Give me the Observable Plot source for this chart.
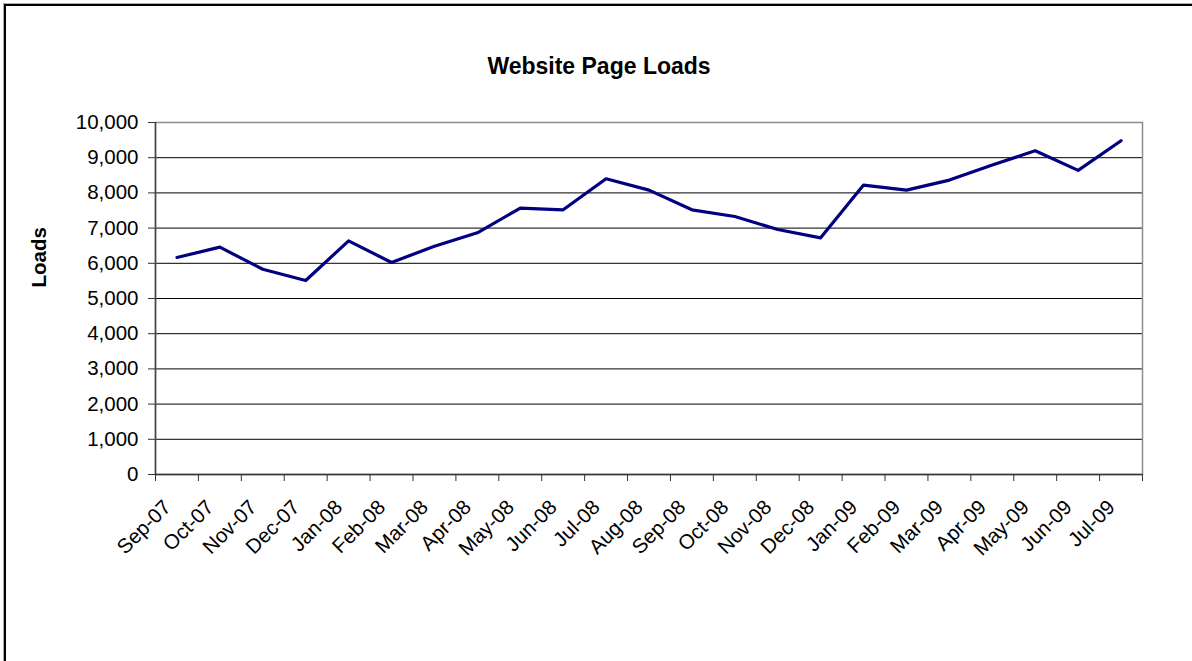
<!DOCTYPE html>
<html>
<head>
<meta charset="utf-8">
<script src="https://cdn.jsdelivr.net/npm/d3@7"></script>
<script src="https://cdn.jsdelivr.net/npm/@observablehq/plot@0.6"></script>
<style>
  html, body { margin: 0; padding: 0; background: #fff; }
  #wrap { position: relative; width: 1192px; height: 661px; overflow: hidden; }
  #border { position: absolute; left: 4px; top: 4px; width: 1300px; height: 800px;
            border-left: 2px solid #000; border-top: 2px solid #000;
            box-shadow: -1px -1px 0 #aaa; pointer-events: none; }
</style>
</head>
<body>
<div id="wrap"><div id="border"></div></div>
<script>
const title = "Website Page Loads";
const yLabel = "Loads";
const months = ["Sep-07","Oct-07","Nov-07","Dec-07","Jan-08","Feb-08","Mar-08","Apr-08",
  "May-08","Jun-08","Jul-08","Aug-08","Sep-08","Oct-08","Nov-08","Dec-08",
  "Jan-09","Feb-09","Mar-09","Apr-09","May-09","Jun-09","Jul-09"];
const loads = [6165, 6458, 5830, 5510, 6638, 6023, 6486, 6866,
  7568, 7520, 8402, 8080, 7520, 7330, 6960, 6723,
  8222, 8080, 8364, 8791, 9198, 8640, 9482];
const yTicks = [0, 1000, 2000, 3000, 4000, 5000, 6000, 7000, 8000, 9000, 10000];

const data = months.map((m, i) => ({pos: i + 0.5, month: m, loads: loads[i]}));
const boundaries = d3.range(months.length + 1);

const chart = Plot.plot({
  width: 1192,
  height: 661,
  marginLeft: 155,
  marginRight: 50,
  marginTop: 122,
  marginBottom: 187,
  x: {domain: [0, months.length], axis: null},
  y: {domain: [0, 10000], axis: null},
  style: {fontFamily: "'Liberation Sans', Arial, sans-serif", fontSize: "20px", color: "#000", background: "transparent"},
  marks: [
    Plot.gridY(yTicks, {stroke: "#000", strokeOpacity: 1, strokeWidth: 1}),
    Plot.frame({stroke: "#8c8c8c", strokeWidth: 1.5}),
    Plot.ruleX([0], {stroke: "#444", strokeWidth: 1.5}),
    Plot.ruleY([0], {stroke: "#333", strokeWidth: 1.5}),
    Plot.axisY(yTicks, {tickSize: 7, tickPadding: 10, tickFormat: d3.format(","), label: null, fontSize: 20.5, stroke: "#333"}),
    Plot.axisX(boundaries, {tickSize: 7, tickFormat: () => "", label: null, stroke: "#333"}),
    Plot.text(data, {x: "pos", text: "month", frameAnchor: "bottom", textAnchor: "end", rotate: -45, dx: -5, dy: 34, fontSize: 20.5, fill: "#000"}),
    Plot.line(data, {x: "pos", y: "loads", stroke: "#000080", strokeWidth: 3.2}),
    Plot.text([title], {frameAnchor: "top", dx: -50, dy: -49, lineAnchor: "bottom", fontWeight: "bold", fontSize: 23, fill: "#000"}),
    Plot.text([yLabel], {frameAnchor: "left", rotate: -90, dx: -116.5, dy: -11, fontWeight: "bold", fontSize: 20.5, fill: "#000"})
  ]
});
document.getElementById("wrap").prepend(chart);
</script>
</body>
</html>
